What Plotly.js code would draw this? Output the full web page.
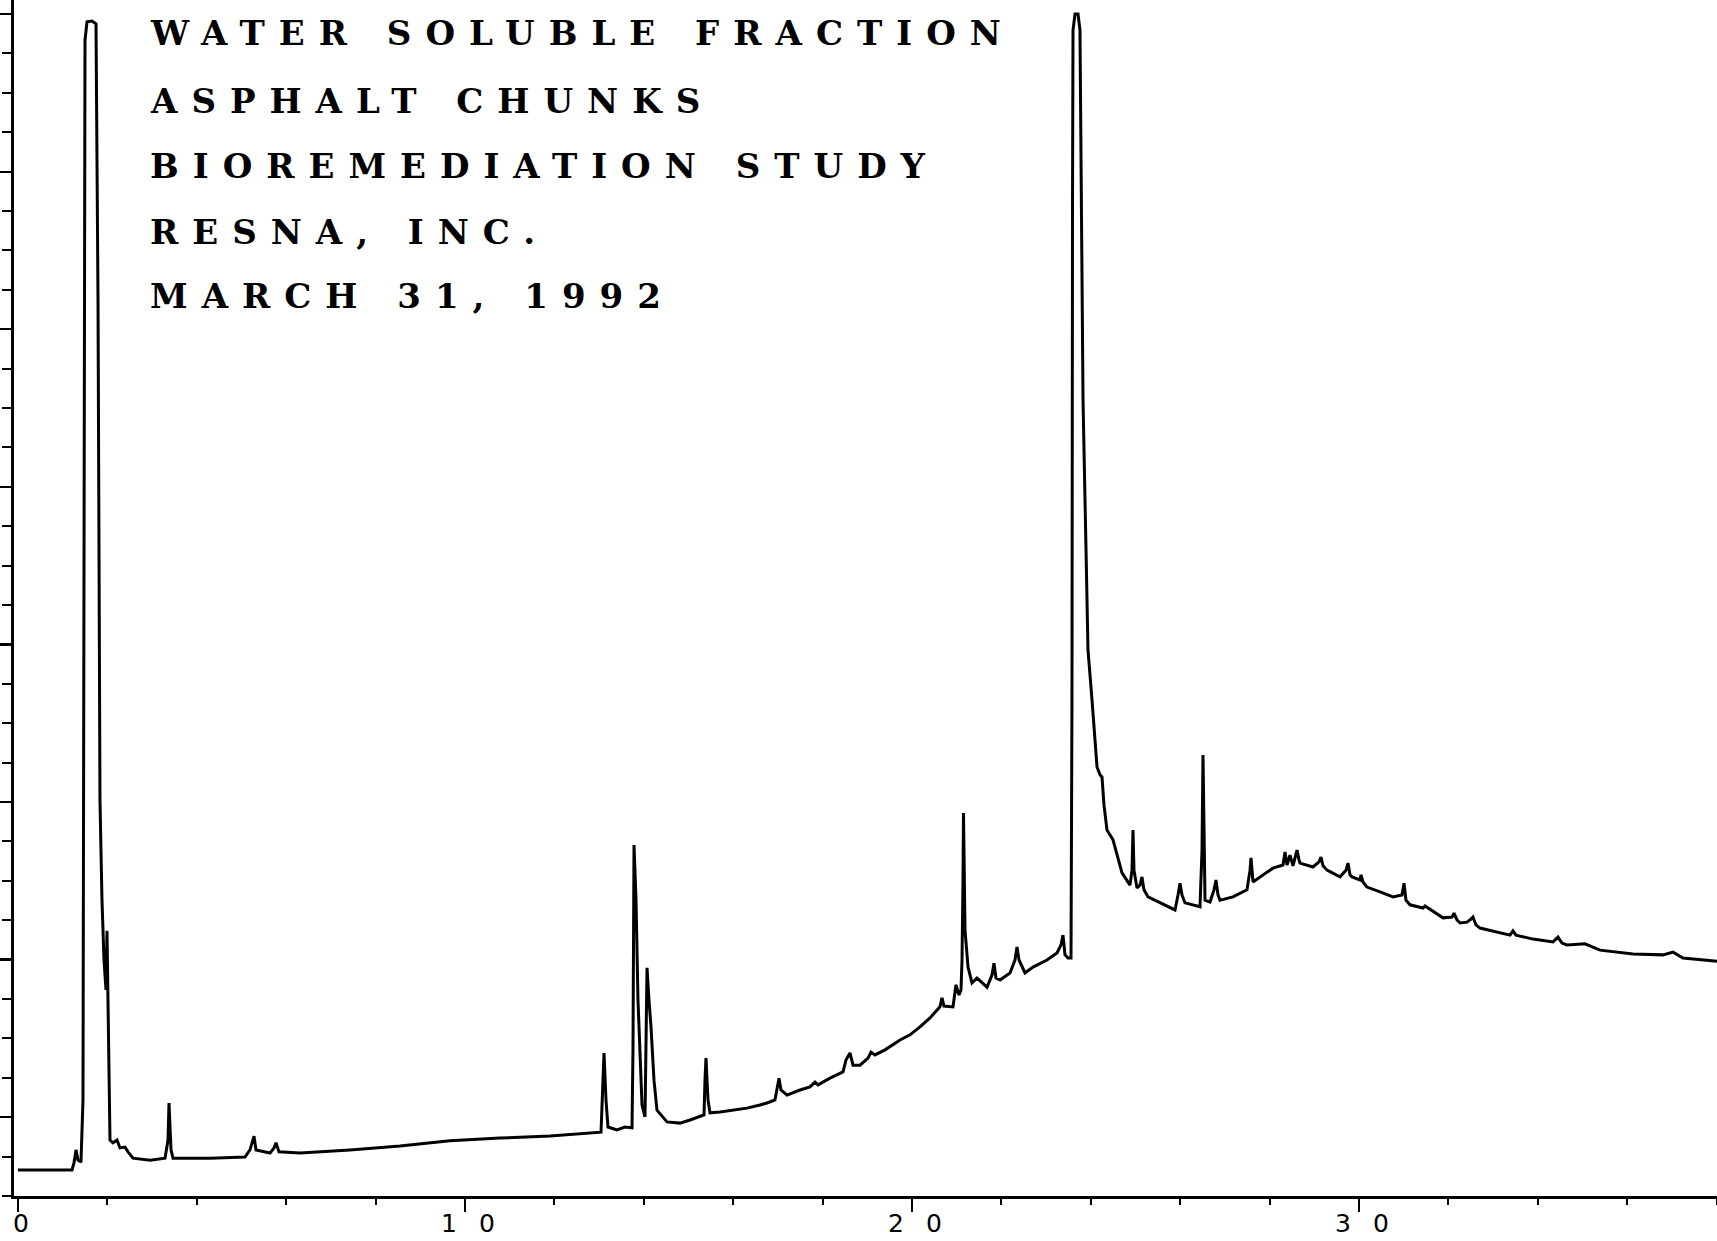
<!DOCTYPE html>
<html>
<head>
<meta charset="utf-8">
<script src="https://cdn.plot.ly/plotly-3.0.1.min.js"></script>
<style>
  html, body { margin: 0; padding: 0; background: #ffffff; }
  #chart { width: 1717px; height: 1241px; }
</style>
</head>
<body>
<div id="chart"></div>
<script>
// Retention time (minutes) and detector response (arbitrary units, one unit = one y-axis minor tick)
const retentionTime = [
  0, 0.940, 1.208, 1.253, 1.298, 1.342, 1.409, 1.454, 1.477, 1.499, 1.544, 1.655, 1.745,
  1.790, 1.834, 1.879, 1.924, 1.969, 1.991, 2.013, 2.036, 2.058, 2.125, 2.215, 2.282, 2.394,
  2.461, 2.573, 2.953, 3.289, 3.356, 3.378, 3.423, 3.468, 4.295, 5.078, 5.190, 5.280, 5.324,
  5.638, 5.727, 5.772, 5.839, 6.309, 7.427, 8.546, 9.664, 10.783, 11.902, 12.729, 13.043,
  13.087, 13.110, 13.154, 13.199, 13.400, 13.579, 13.736, 13.758, 13.781, 13.826, 13.870,
  13.960, 14.027, 14.049, 14.072, 14.116, 14.161, 14.228, 14.295, 14.519, 14.810, 15.034,
  15.257, 15.347, 15.369, 15.391, 15.436, 15.481, 15.705, 15.996, 16.309, 16.600, 16.756,
  16.935, 17.002, 17.025, 17.069, 17.204, 17.494, 17.718, 17.830, 17.897, 18.166, 18.456,
  18.523, 18.613, 18.680, 18.837, 19.016, 19.083, 19.172, 19.396, 19.732, 19.955, 20.179,
  20.403, 20.626, 20.671, 20.716, 20.917, 20.984, 21.051, 21.096, 21.119, 21.141, 21.152,
  21.163, 21.186, 21.253, 21.342, 21.454, 21.678, 21.790, 21.834, 21.879, 21.969, 22.192,
  22.304, 22.349, 22.394, 22.528, 22.707, 23.020, 23.244, 23.333, 23.378, 23.423, 23.490,
  23.557, 23.579, 23.591, 23.602, 23.647, 23.714, 23.758, 23.781, 23.826, 23.893, 23.937,
  24.027, 24.139, 24.206, 24.251, 24.295, 24.362, 24.497, 24.609, 24.698, 24.877, 24.922,
  24.944, 24.966, 25.034, 25.101, 25.145, 25.190, 25.280, 25.548, 25.772, 25.884, 25.951,
  25.996, 26.040, 26.107, 26.443, 26.488, 26.510, 26.532, 26.555, 26.667, 26.756, 26.801,
  26.846, 26.890, 27.181, 27.494, 27.562, 27.584, 27.606, 27.629, 27.942, 28.076, 28.300,
  28.345, 28.389, 28.456, 28.523, 28.613, 28.658, 28.680, 28.971, 29.105, 29.150, 29.195,
  29.284, 29.575, 29.709, 29.754, 29.799, 29.843, 30.022, 30.045, 30.089, 30.179, 30.470,
  30.761, 30.962, 31.007, 31.051, 31.141, 31.432, 31.477, 31.879, 32.081, 32.125, 32.192,
  32.260, 32.416, 32.506, 32.550, 32.617, 32.707, 33.378, 33.445, 33.512, 33.893, 34.340,
  34.452, 34.541, 34.653, 35.056, 35.391, 36.130, 36.801, 37.025, 37.248, 38.009
];
const detectorResponse = [
  0.66, 0.66, 0.66, 0.84, 1.17, 0.91, 0.86, 2.44, 20.20, 29.34, 29.80, 29.82, 29.75,
  22.74, 10.05, 7.51, 5.99, 5.23, 6.73, 4.97, 2.44, 1.42, 1.35, 1.42, 1.22, 1.24,
  1.12, 0.96, 0.91, 0.96, 1.42, 2.36, 1.17, 0.96, 0.96, 0.99, 1.17, 1.52, 1.17,
  1.09, 1.22, 1.35, 1.12, 1.09, 1.17, 1.27, 1.40, 1.47, 1.52, 1.60, 1.62,
  2.94, 3.63, 2.44, 1.75, 1.68, 1.75, 1.73, 3.71, 8.91, 7.51, 4.97,
  2.31, 2.01, 3.71, 5.79, 4.97, 4.29, 2.94, 2.18, 1.88, 1.85, 1.93,
  2.01, 2.06, 2.94, 3.50, 2.44, 2.11, 2.13, 2.18, 2.23, 2.31, 2.36,
  2.44, 2.82, 2.99, 2.69, 2.56, 2.69, 2.77, 2.89, 2.82, 2.99, 3.15,
  3.45, 3.63, 3.32, 3.32, 3.50, 3.65, 3.58, 3.71, 3.96, 4.09, 4.29,
  4.52, 4.80, 5.03, 4.82, 4.80, 5.36, 5.10, 5.23, 5.99, 8.02, 9.72,
  8.78, 6.75, 5.81, 5.41, 5.53, 5.30, 5.61, 5.91, 5.53, 5.48, 5.66,
  5.99, 6.32, 5.99, 5.66, 5.81, 5.99, 6.17, 6.37, 6.62, 6.12, 6.04,
  6.04, 12.59, 25.28, 29.59, 30.00, 30.00, 29.59, 25.96, 20.20, 16.40, 13.86,
  12.59, 10.89, 10.69, 10.63, 9.92, 9.29, 9.04, 8.53, 8.20, 7.89, 8.27,
  9.29, 8.27, 7.82, 7.89, 8.10, 7.77, 7.59, 7.44, 7.31, 7.26, 7.64,
  7.94, 7.64, 7.44, 7.34, 8.78, 11.19, 8.78, 7.51, 7.46, 7.77, 8.02,
  7.64, 7.51, 7.59, 7.77, 8.27, 8.58, 8.15, 7.97, 8.22, 8.32, 8.40,
  8.73, 8.40, 8.65, 8.38, 8.78, 8.53, 8.45, 8.35, 8.48, 8.60, 8.38,
  8.27, 8.10, 8.27, 8.45, 8.15, 8.10, 8.02, 8.15, 7.97, 7.84, 7.72,
  7.59, 7.64, 7.94, 7.51, 7.39, 7.31, 7.36, 7.06, 7.08, 7.18, 7.01,
  6.93, 6.95, 7.03, 7.08, 6.88, 6.80, 6.62, 6.73, 6.62, 6.52, 6.45,
  6.57, 6.42, 6.37, 6.40, 6.24, 6.14, 6.12, 6.19, 6.04, 5.96
];
const headingLines = [
  "WATER SOLUBLE FRACTION",
  "ASPHALT CHUNKS",
  "BIOREMEDIATION STUDY",
  "RESNA, INC.",
  "MARCH 31, 1992"
];
const timeTickValues = [0, 10, 20, 30];
const timeTickLabels = ["0", "10", "20", "30"];

// ---- layout constants (pixels) ----
const W = 1717, H = 1241;
const M = { l: 14, r: 0, t: 0, b: 45 };
const plotW = W - M.l - M.r, plotH = H - M.t - M.b;
const headingLeftPx = 148;
const headingCenterPx = [33, 101, 166, 232, 296];

const annotations = headingLines.map((txt, i) => ({
  text: txt,
  xref: 'paper', yref: 'paper',
  x: (headingLeftPx - M.l) / plotW,
  y: 1 - headingCenterPx[i] / plotH,
  xanchor: 'left', yanchor: 'middle', align: 'left',
  showarrow: false,
  font: { family: 'DejaVu Serif', size: 34, weight: 'bold', color: '#000000' }
}));

const trace = {
  x: retentionTime,
  y: detectorResponse,
  type: 'scatter',
  mode: 'lines',
  line: { color: '#000000', width: 3 },
  hoverinfo: 'skip'
};

const layout = {
  width: W, height: H,
  margin: M,
  paper_bgcolor: '#ffffff',
  plot_bgcolor: '#ffffff',
  showlegend: false,
  xaxis: {
    range: [-0.0895, 38.009],
    showgrid: false, zeroline: false,
    showline: true, linecolor: '#000000', linewidth: 2.6,
    tickmode: 'array', tickvals: timeTickValues, ticktext: timeTickLabels,
    ticks: 'outside', ticklen: 13, tickwidth: 2.4, tickcolor: '#000000',
    minor: { tickmode: 'linear', tick0: 0, dtick: 2, ticks: 'outside', ticklen: 6, tickwidth: 2, tickcolor: '#000000', showgrid: false },
    tickfont: { family: 'DejaVu Sans', size: 25, color: '#000000' },
    ticklabelstandoff: -10,
    ticklabelshift: 14
  },
  yaxis: {
    range: [0, plotH / 39.4],
    showgrid: false, zeroline: false,
    showline: true, linecolor: '#000000', linewidth: 2.6,
    showticklabels: false,
    tickmode: 'linear', tick0: 2, dtick: 4,
    ticks: 'outside', ticklen: 14, tickwidth: 2.2, tickcolor: '#000000',
    minor: { tickmode: 'linear', tick0: 0, dtick: 1, ticks: 'outside', ticklen: 9, tickwidth: 2, tickcolor: '#000000', showgrid: false }
  },
  annotations: annotations
};

Plotly.newPlot('chart', [trace], layout, { staticPlot: true, displayModeBar: false }).then(() => {
  document.querySelectorAll('#chart .annotation-text').forEach(el => { el.style.letterSpacing = '14px'; });
  document.querySelectorAll('#chart .xtick text').forEach(el => { el.style.letterSpacing = '22px'; });
});
</script>
</body>
</html>
